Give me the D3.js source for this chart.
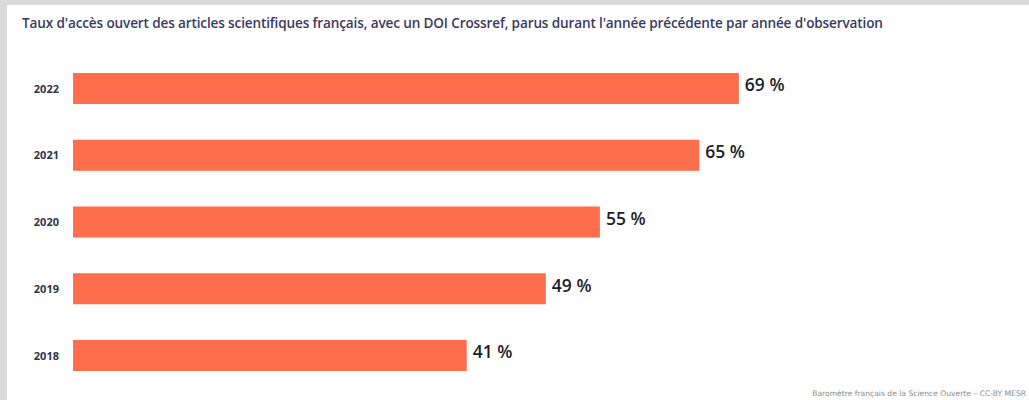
<!DOCTYPE html>
<html>
<head>
<meta charset="utf-8">
<script src="https://cdn.jsdelivr.net/npm/d3@7"></script>
<style>
  body { margin: 0; background: #d9d9d9; }
  svg { display: block; }
</style>
</head>
<body>
<svg id="chart"></svg>
<script>
// chart data
const years = ["2022", "2021", "2020", "2019", "2018"];
const openAccess = [69.0, 64.9, 54.6, 49.0, 40.8];
const titleText = "Taux d'accès ouvert des articles scientifiques français, avec un DOI Crossref, parus durant l'année précédente par année d'observation";
const creditText = "Baromètre français de la Science Ouverte – CC-BY MESR";

const width = 1029, height = 400;
const margin = { left: 73, top: 73, right: 0, bottom: 0 };

const svg = d3.select("#chart")
    .attr("width", width)
    .attr("height", height);

// white panel
svg.append("rect")
    .attr("x", 7).attr("y", 5)
    .attr("width", width).attr("height", height)
    .attr("fill", "#ffffff");

svg.append("text")
    .attr("x", 22).attr("y", 28)
    .attr("font-family", "'Open Sans', sans-serif")
    .attr("font-weight", 600)
    .attr("font-size", "13.6px")
    .attr("letter-spacing", "-0.15px")
    .attr("fill", "#3a3a5e")
    .text(titleText);

const xScale = d3.scaleLinear()
    .domain([0, 100])
    .range([margin.left, 1038]);

const yScale = d3.scaleBand()
    .domain(years)
    .range([margin.top - 18, margin.top - 18 + 5 * 66.8])
    .paddingInner(0.535)
    .paddingOuter(0.27);

const data = years.map((y, i) => ({ year: y, value: openAccess[i] }));

svg.selectAll(".bar")
    .data(data)
    .join("rect")
    .attr("class", "bar")
    .attr("x", xScale(0))
    .attr("y", d => yScale(d.year))
    .attr("width", d => xScale(d.value) - xScale(0))
    .attr("height", yScale.bandwidth())
    .attr("fill", "#fe6e4c");

// year labels
const yAxis = d3.axisLeft(yScale).tickSize(0).tickPadding(14);
svg.append("g")
    .attr("transform", "translate(" + margin.left + ",0)")
    .call(yAxis)
    .call(g => g.select(".domain").remove())
    .selectAll("text")
    .attr("font-family", "'Open Sans', sans-serif")
    .attr("font-weight", 700)
    .attr("font-size", "11px")
    .attr("fill", "#2f3345")
    .attr("dy", "0.38em");

// value labels
svg.selectAll(".val")
    .data(data)
    .join("text")
    .attr("class", "val")
    .attr("x", d => xScale(d.value) + 6)
    .attr("y", d => yScale(d.year) + yScale.bandwidth() / 2 + 2.8)
    .attr("font-family", "'Open Sans', sans-serif")
    .attr("font-weight", 600)
    .attr("font-size", "17.5px")
    .attr("fill", "#1e1e28")
    .text(d => Math.round(d.value) + " %");

// credit line, kept inside the frame
svg.append("text")
    .attr("x", 1026).attr("y", 396)
    .attr("text-anchor", "end")
    .attr("font-family", "'DejaVu Sans', sans-serif")
    .attr("font-size", "7.6px")
    .attr("fill", "#8a8a8a")
    .text(creditText);
</script>
</body>
</html>
